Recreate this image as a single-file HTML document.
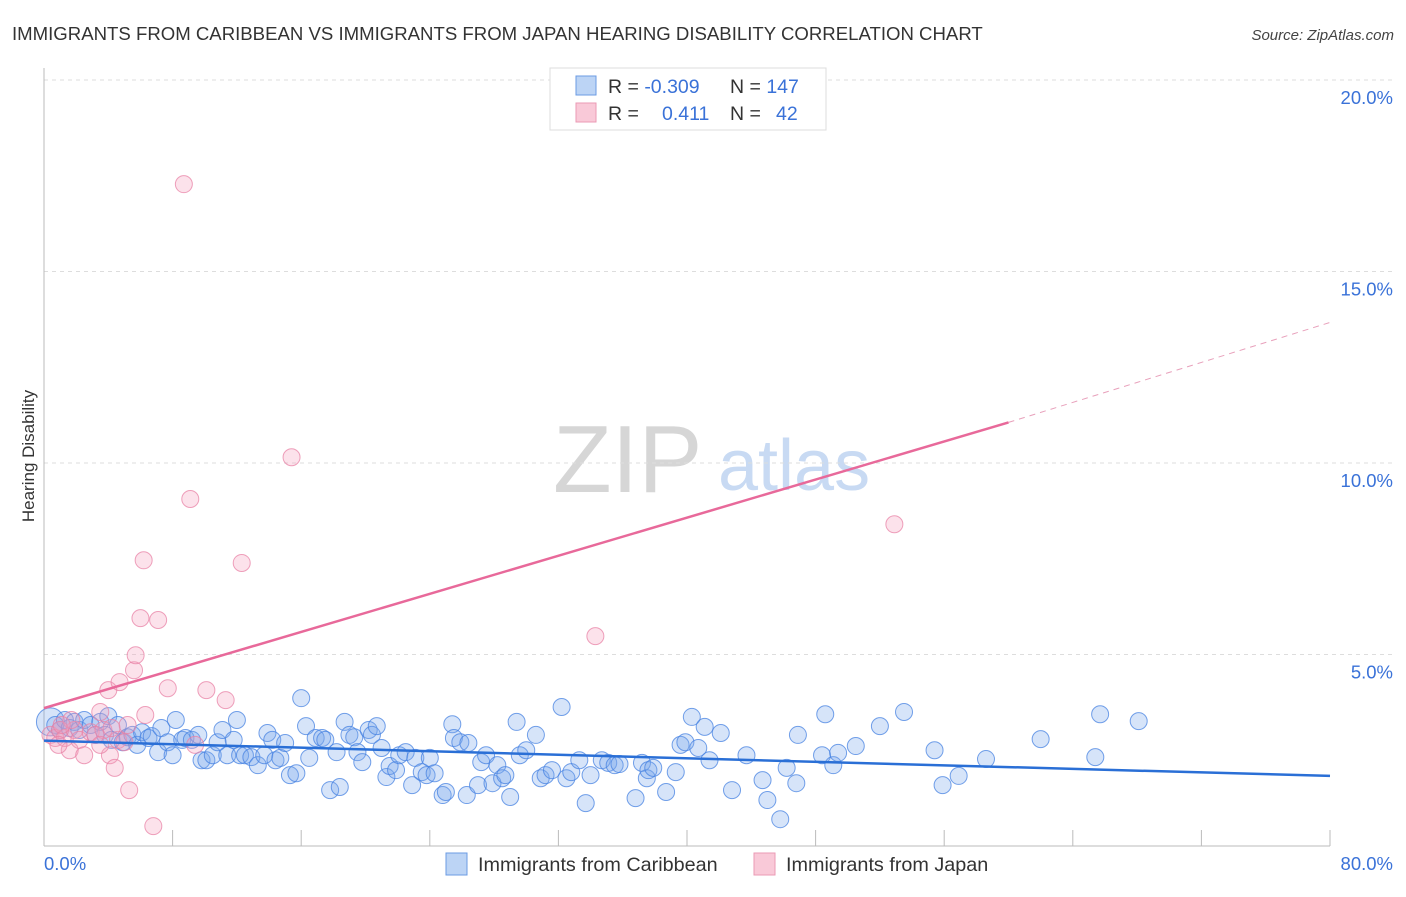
<!DOCTYPE html>
<html><head><meta charset="utf-8">
<style>
body{margin:0;background:#fff;font-family:"Liberation Sans",sans-serif;}
svg text{font-family:"Liberation Sans",sans-serif;}
</style></head>
<body>
<svg id="chart" width="1406" height="892" xmlns="http://www.w3.org/2000/svg">
<text x="12" y="40" font-size="18.6" fill="#333">IMMIGRANTS FROM CARIBBEAN VS IMMIGRANTS FROM JAPAN HEARING DISABILITY CORRELATION CHART</text>
<text x="1394" y="40" font-size="15" fill="#444" text-anchor="end" font-style="italic">Source: ZipAtlas.com</text>
<g>
<text x="553" y="492" font-size="96" font-family="Liberation Serif" fill="#d6d6d6">ZIP</text>
<text x="718" y="490" font-size="72" fill="#c8daf3">atlas</text>
</g>
<g id="grid"></g>
<g id="axes"></g>
<g id="marks"></g>
<text transform="translate(34,456) rotate(-90)" font-size="17" fill="#333" text-anchor="middle">Hearing Disability</text>
<g>
<rect x="550" y="68" width="276" height="62" fill="#fff" stroke="#ddd"/>
<rect x="576" y="76" width="20" height="19" fill="#bcd4f5" stroke="#6b9be3"/>
<rect x="576" y="103" width="20" height="19" fill="#f9c9d8" stroke="#eb9ab4"/>
<text x="608" y="93" font-size="19.5" fill="#333">R = <tspan fill="#3a72d8">-0.309</tspan><tspan x="730">N = </tspan><tspan fill="#3a72d8">147</tspan></text>
<text x="608" y="120" font-size="19.5" fill="#333">R = <tspan x="662" fill="#3a72d8">0.411</tspan><tspan x="730">N = </tspan><tspan x="776" fill="#3a72d8">42</tspan></text>
</g>
<g>
<rect x="446" y="853" width="21" height="22" fill="#bcd4f5" stroke="#6b9be3"/>
<text x="478" y="871" font-size="19.8" fill="#333">Immigrants from Caribbean</text>
<rect x="754" y="853" width="21" height="22" fill="#f9c9d8" stroke="#eb9ab4"/>
<text x="786" y="871" font-size="19.8" fill="#333">Immigrants from Japan</text>
</g>
</svg>
<script>
const yTicks=[5,10,15,20];
const yTickLabels=["5.0%","10.0%","15.0%","20.0%"];
const xTickVals=[8,16,24,32,40,48,56,64,72,80];
const xEndLabels=["0.0%","80.0%"];
const blueX=[0.4,0.7,1.0,1.3,1.6,1.9,2.2,2.5,2.9,3.2,3.5,3.8,4.0,4.2,4.6,4.9,5.2,5.5,5.8,6.1,6.5,6.7,7.1,7.3,7.7,8.0,8.2,8.6,8.8,9.2,9.6,9.8,10.1,10.5,10.8,11.1,11.4,11.8,12.0,12.2,12.5,12.9,13.3,13.7,13.9,14.2,14.4,14.7,15.0,15.3,15.7,16.0,16.3,16.5,16.9,17.3,17.5,17.8,18.2,18.4,18.7,19.0,19.3,19.5,19.8,20.2,20.4,20.7,21.0,21.3,21.5,21.9,22.1,22.5,22.9,23.1,23.5,23.8,24.0,24.3,24.8,25.0,25.4,25.5,25.9,26.3,26.4,27.0,27.2,27.5,27.9,28.2,28.5,28.7,29.0,29.4,29.6,30.0,30.6,30.9,31.2,31.6,32.2,32.5,32.8,33.3,33.7,34.0,34.7,35.1,35.5,35.8,36.8,37.2,37.5,37.6,37.9,38.7,39.3,39.6,39.9,40.3,40.7,41.1,41.4,42.1,42.8,43.7,44.7,45.0,45.8,46.2,46.8,46.9,48.4,48.6,49.1,49.4,50.5,52.0,53.5,55.4,55.9,56.9,58.6,62.0,65.4,65.7,68.1];
const blueY=[3.24,3.16,3.03,3.29,3.08,3.24,3.03,3.29,3.16,2.90,3.24,2.90,3.39,2.77,3.16,2.71,2.84,2.90,2.64,2.97,2.82,2.87,2.45,3.08,2.71,2.37,3.29,2.77,2.82,2.77,2.90,2.24,2.24,2.37,2.71,3.03,2.37,2.77,3.29,2.37,2.37,2.32,2.11,2.37,2.95,2.77,2.24,2.30,2.69,1.85,1.90,3.86,3.13,2.30,2.82,2.82,2.77,1.46,2.45,1.54,3.24,2.90,2.84,2.45,2.19,3.03,2.90,3.13,2.56,1.80,2.09,1.98,2.37,2.45,1.59,2.30,1.93,1.85,2.30,1.90,1.33,1.41,3.18,2.82,2.71,1.33,2.69,1.59,2.19,2.37,1.64,2.11,1.77,1.85,1.28,3.24,2.37,2.50,2.90,1.77,1.85,1.98,3.63,1.77,1.93,2.24,1.12,1.85,2.24,2.17,2.11,2.14,1.25,2.17,1.77,1.98,2.04,1.41,1.93,2.64,2.71,3.37,2.56,3.11,2.24,2.95,1.46,2.37,1.72,1.20,0.70,2.04,1.64,2.90,2.37,3.44,2.11,2.43,2.61,3.13,3.50,2.50,1.59,1.83,2.27,2.79,2.32,3.44,3.26];
const pinkX=[0.4,0.7,1.0,1.3,1.6,1.9,2.2,2.5,2.9,3.2,3.5,3.7,4.0,4.1,4.4,4.6,4.7,5.0,5.2,5.3,5.6,5.7,6.0,6.2,6.3,6.8,7.1,7.7,8.7,9.1,9.4,10.1,11.3,12.3,15.4,34.3,52.9,0.9,1.7,3.5,4.2,1.1];
const pinkY=[2.90,2.82,3.03,2.82,2.50,3.03,2.77,2.37,2.97,2.90,3.50,3.03,4.07,2.37,2.04,2.77,4.28,2.71,3.16,1.46,4.59,4.98,5.95,7.46,3.42,0.52,5.90,4.12,17.28,9.06,2.64,4.07,3.81,7.39,10.15,5.48,8.40,2.64,3.29,2.64,3.08,3.16];
const blueFit=[2.75,1.83];
const pinkFit=[3.60,11.06,13.67];
const pinkFitX=[0,60,80];

const NS="http://www.w3.org/2000/svg";
const X0=44,X1=1330,Y0=846,Y20=80;
const sx=v=>X0+v/80*(X1-X0);
const sy=v=>Y0-v/20*(Y0-Y20);
function mk(tag,attrs,parent){const e=document.createElementNS(NS,tag);for(const k in attrs)e.setAttribute(k,attrs[k]);parent.appendChild(e);return e;}
const grid=document.getElementById('grid'),axes=document.getElementById('axes'),marks=document.getElementById('marks');
yTicks.forEach((t,i)=>{
 const l=mk('line',{x1:X0,x2:1394,y1:sy(t),y2:sy(t),stroke:'#ddd','stroke-dasharray':'4,4'},grid);
 
 
 const tx=mk('text',{x:1393,y:sy(t)+24,'font-size':18.5,fill:'#3a72d8','text-anchor':'end'},axes);
 tx.textContent=yTickLabels[i];
 
 
});
const al=mk('line',{x1:X0,x2:X0,y1:68,y2:Y0,stroke:'#bbb'},axes);


const bl=mk('line',{x1:X0,x2:X1,y1:Y0,y2:Y0,stroke:'#bbb'},axes);


xTickVals.forEach(t=>{
 const l=mk('line',{x1:sx(t),x2:sx(t),y1:830,y2:Y0,stroke:'#bbb'},axes);
 
 
});
const xl0=mk('text',{x:44,y:870,'font-size':18.5,fill:'#3a72d8'},axes);xl0.textContent=xEndLabels[0];


const xl1=mk('text',{x:1393,y:870,'font-size':18.5,fill:'#3a72d8','text-anchor':'end'},axes);xl1.textContent=xEndLabels[1];



blueX.forEach((x,i)=>{
 const c=mk('circle',{cx:sx(x),cy:sy(blueY[i]),r:i===0?14:8.5,fill:'rgba(120,165,235,0.3)',stroke:'rgba(70,130,225,0.75)','stroke-width':1},marks);
 
 
});
pinkX.forEach((x,i)=>{
 const c=mk('circle',{cx:sx(x),cy:sy(pinkY[i]),r:8.5,fill:'rgba(245,160,190,0.3)',stroke:'rgba(232,130,165,0.75)','stroke-width':1},marks);
 
 
});
const bf=mk('line',{x1:sx(0),y1:sy(blueFit[0]),x2:sx(80),y2:sy(blueFit[1]),stroke:'#2a6fd6','stroke-width':2.5},marks);


const pf=mk('line',{x1:sx(pinkFitX[0]),y1:sy(pinkFit[0]),x2:sx(pinkFitX[1]),y2:sy(pinkFit[1]),stroke:'#e8699a','stroke-width':2.5},marks);


const pd=mk('line',{x1:sx(pinkFitX[1]),y1:sy(pinkFit[1]),x2:sx(pinkFitX[2]),y2:sy(pinkFit[2]),stroke:'#e8a0bb','stroke-width':1,'stroke-dasharray':'6,5'},marks);


</script>
</body></html>
